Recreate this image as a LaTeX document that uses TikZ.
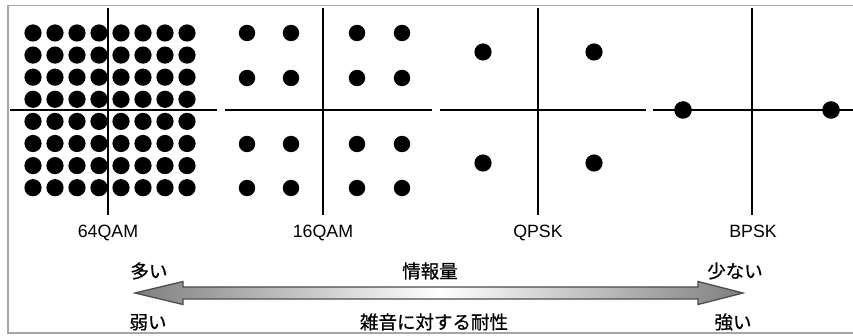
\documentclass[tikz,border=0pt]{standalone}
\usepackage{fontspec}
\setmainfont{Liberation Sans}
\newfontfamily\jpfont[FakeBold=0.6]{Noto Sans CJK JP}
\begin{document}
\begin{tikzpicture}[x=1pt,y=-1pt,
  axisline/.style={line width=1.6pt,black},
  dot/.style={fill=black},
  modlabel/.style={font=\fontsize{17.8}{18}\selectfont,anchor=base,inner sep=0pt},
  jplabel/.style={font=\jpfont\fontsize{18.5}{18.5}\selectfont,anchor=base,inner sep=0pt},
  frameline/.style={line width=1.2pt,black!35}]
\useasboundingbox (0,0) rectangle (853,336);
% frame
\draw[frameline] (853,5.5) -- (8,5.5) -- (8,333) -- (853,333);
% axes
\foreach \cx/\xa/\xb in {108/10/217, 323/225/432, 538/440/646, 752/653/853} {
  \draw[axisline] (\xa,110) -- (\xb,110);
  \draw[axisline] (\cx,8) -- (\cx,215);
}
% 64QAM
\foreach \i in {0,...,7} \foreach \j in {0,...,7}
  \fill[dot] ({33+22*\i},{33+22.1*\j}) circle (8.6);
% 16QAM
\foreach \px in {247,291,357,402} \foreach \py in {33,78,144,188}
  \fill[dot] (\px,\py) circle (8.2);
% QPSK
\foreach \px in {483,594} \foreach \py in {52,163}
  \fill[dot] (\px,\py) circle (8.6);
% BPSK
\foreach \px in {683,831}
  \fill[dot] (\px,110) circle (8.8);
% labels
\node[modlabel] (l64) at (108,237.5) {64QAM};
\node[modlabel] (l16) at (323,237.5) {16QAM};
\node[modlabel] (lq) at (538,237.5) {QPSK};
\node[modlabel] (lb) at (753,237.5) {BPSK};
% arrow
\path[draw=black!70,line width=1.3pt,left color=black!50,right color=black!50,middle color=white]
  (135,293) -- (183,281.5) -- (183,287) -- (698,287) -- (698,281.5) -- (743,293)
  -- (698,304.5) -- (698,299) -- (183,299) -- (183,304.5) -- cycle;
% japanese labels
\node[jplabel] (many) at (149,278) {多い};
\node[jplabel] (info) at (430,278) {情報量};
\node[jplabel] (few) at (735,278) {少ない};
\node[jplabel] (weak) at (148,329) {弱い};
\node[jplabel] (noise) at (434,329) {雑音に対する耐性};
\node[jplabel] (strong) at (733,329) {強い};
\end{tikzpicture}
\end{document}
